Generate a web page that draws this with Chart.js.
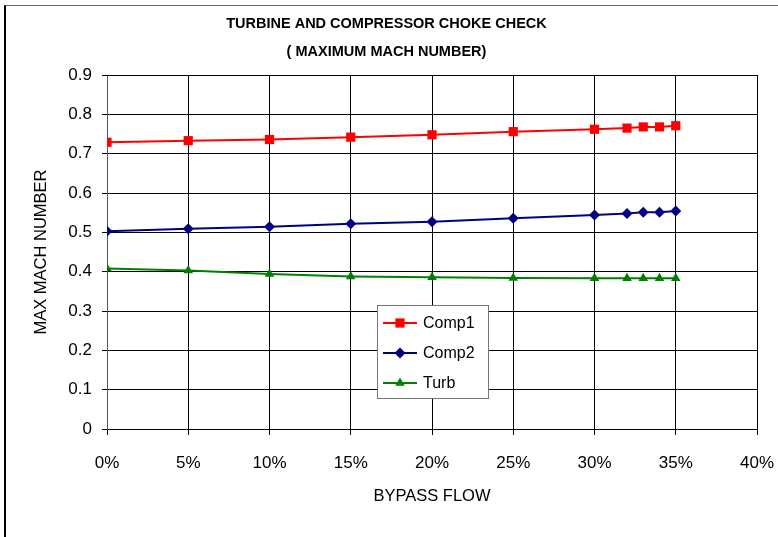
<!DOCTYPE html>
<html>
<head>
<meta charset="utf-8">
<script src="https://cdn.jsdelivr.net/npm/chart.js@4.4.1/dist/chart.umd.min.js"></script>
<style>
  body { margin: 0; background: #fff; }
  #wrap { position: relative; width: 778px; height: 537px; }
  #frame { position: absolute; left: 4px; top: 5px; right: 0; bottom: 0;
           border-top: 1px solid #666; border-left: 2px solid #000; pointer-events: none; }
</style>
</head>
<body>
<div id="wrap">
  <canvas id="chokeChart" width="778" height="537"></canvas>
  <div id="frame"></div>
</div>
<script>
// data
const bypassFlow = [0, 5, 10, 15, 20, 25, 30, 32, 33, 34, 35];
const comp1 = [0.729, 0.733, 0.736, 0.742, 0.748, 0.756, 0.762, 0.765, 0.768, 0.768, 0.771];
const comp2 = [0.503, 0.509, 0.514, 0.522, 0.527, 0.536, 0.544, 0.548, 0.551, 0.551, 0.554];
const turb = [0.408, 0.403, 0.394, 0.388, 0.386, 0.384, 0.383, 0.383, 0.383, 0.383, 0.383];

const seriesNames = ['Comp1', 'Comp2', 'Turb'];
const titleLines = ['TURBINE AND COMPRESSOR CHOKE CHECK', '( MAXIMUM MACH NUMBER)'];

const fontFamily = '"Liberation Sans", Arial, sans-serif';

function toPoints(ys) {
    return bypassFlow.map((x, i) => ({ x: x, y: ys[i] }));
}

// legend box drawn inside the plot area
const boxLegend = {
    id: 'boxLegend',
    afterDraw(chart, args, opts) {
        const ctx = chart.ctx;
        ctx.save();
        ctx.fillStyle = '#fff';
        ctx.strokeStyle = '#777';
        ctx.lineWidth = 1;
        ctx.fillRect(opts.x, opts.y, opts.w, opts.h);
        ctx.strokeRect(opts.x + 0.5, opts.y + 0.5, opts.w, opts.h);
        ctx.font = '16px ' + fontFamily;
        ctx.textBaseline = 'middle';
        chart.data.datasets.forEach((ds, i) => {
            const cy = opts.y + 18 + i * 30;
            const x0 = opts.x + 6;
            ctx.strokeStyle = ds.borderColor;
            ctx.lineWidth = 2;
            ctx.beginPath();
            ctx.moveTo(x0, cy);
            ctx.lineTo(x0 + 34, cy);
            ctx.stroke();
            ctx.fillStyle = ds.backgroundColor;
            Chart.helpers.drawPoint(ctx, {
                pointStyle: ds.pointStyle, rotation: 0, borderWidth: 0, radius: ds.pointRadius
            }, x0 + 17, cy);
            ctx.fillStyle = '#000';
            ctx.fillText(ds.label, x0 + 40, cy + 1);
        });
        ctx.restore();
    }
};

new Chart(document.getElementById('chokeChart'), {
    type: 'line',
    data: {
        datasets: [{
            label: seriesNames[0],
            data: toPoints(comp1),
            borderColor: '#ff0000',
            backgroundColor: '#ff0000',
            borderWidth: 2,
            pointStyle: 'rect',
            pointRadius: 6.5,
            pointBorderWidth: 0
        }, {
            label: seriesNames[1],
            data: toPoints(comp2),
            borderColor: '#000080',
            backgroundColor: '#000080',
            borderWidth: 2,
            pointStyle: 'rectRot',
            pointRadius: 5.5,
            pointBorderWidth: 0
        }, {
            label: seriesNames[2],
            data: toPoints(turb),
            borderColor: '#008000',
            backgroundColor: '#008000',
            borderWidth: 2,
            pointStyle: 'triangle',
            pointRadius: 5.5,
            pointBorderWidth: 0
        }]
    },
    options: {
        responsive: false,
        animation: false,
        layout: { padding: { left: 16, right: 21, top: 0, bottom: 0 } },
        plugins: {
            legend: { display: false },
            tooltip: { enabled: false },
            title: {
                display: true,
                text: titleLines,
                color: '#000',
                font: { family: fontFamily, size: 14.5, weight: 'bold', lineHeight: 28 / 14.5 },
                padding: { top: 10, bottom: 9 }
            },
            boxLegend: { x: 377, y: 305, w: 111, h: 93 }
        },
        scales: {
            x: {
                type: 'linear',
                min: 0,
                max: 40,
                afterFit: function(scale) {
                    scale.height = 108;
                    scale.paddingRight = 0;
                    scale.paddingLeft = 0;
                },
                ticks: {
                    stepSize: 5,
                    padding: 18,
                    color: '#000',
                    font: { family: fontFamily, size: 17 },
                    callback: function(v) { return v + '%'; }
                },
                grid: { color: '#000', lineWidth: 1, tickLength: 6 },
                border: { color: '#000' },
                title: {
                    display: true,
                    text: 'BYPASS FLOW',
                    color: '#000',
                    font: { family: fontFamily, size: 16.5 },
                    padding: { bottom: 31 }
                }
            },
            y: {
                min: 0,
                max: 0.9,
                afterFit: function(scale) { scale.width = 91; },
                ticks: {
                    stepSize: 0.1,
                    padding: 10,
                    color: '#000',
                    font: { family: fontFamily, size: 17 },
                    callback: function(v) { return v === 0 ? '0' : v.toFixed(1); }
                },
                grid: { color: '#000', lineWidth: 1, tickLength: 5 },
                border: { color: '#555' },
                title: {
                    display: true,
                    text: 'MAX MACH NUMBER',
                    color: '#000',
                    font: { family: fontFamily, size: 16.5 },
                    padding: { top: 16 }
                }
            }
        }
    },
    plugins: [boxLegend]
});
</script>
</body>
</html>
